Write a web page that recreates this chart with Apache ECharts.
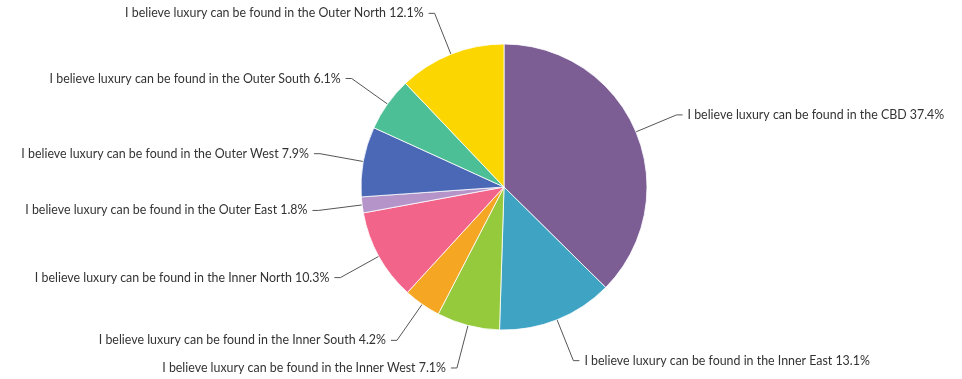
<!DOCTYPE html>
<html>
<head>
<meta charset="utf-8">
<script src="https://cdn.jsdelivr.net/npm/echarts@6/dist/echarts.min.js"></script>
<style>
  html, body { margin: 0; padding: 0; background: #ffffff; }
  #chart { width: 962px; height: 379px; }
</style>
</head>
<body>
<div id="chart"></div>
<script>
// Regions where respondents believe luxury can be found (share of responses, %)
const regions = [
  'CBD', 'Inner East', 'Inner West', 'Inner South', 'Inner North',
  'Outer East', 'Outer West', 'Outer South', 'Outer North'
];
const shares = [37.4, 13.1, 7.1, 4.2, 10.3, 1.8, 7.9, 6.1, 12.1];
const colors = [
  '#7c5e95', '#3fa4c4', '#96ca3d', '#f5a623', '#f26489',
  '#b494c9', '#4a68b5', '#4dbf96', '#fcd600'
];
const labelPrefix = 'I believe luxury can be found in the ';

const data = regions.map((r, i) => ({
  name: labelPrefix + r,
  value: shares[i],
  itemStyle: { color: colors[i] }
}));

const chart = echarts.init(document.getElementById('chart'));
chart.setOption({
  animation: false,
  series: [{
    type: 'pie',
    center: [504, 187],
    radius: 143,
    startAngle: 90,
    clockwise: true,
    avoidLabelOverlap: false,
    itemStyle: { borderColor: '#ffffff', borderWidth: 0.8 },
    label: {
      show: true,
      formatter: p => p.name + ' ' + p.value.toFixed(1) + '%',
      fontFamily: 'Lato',
      fontSize: 12.4,
      color: '#333333',
      distanceToLabelLine: 5
    },
    labelLine: {
      show: true,
      length: 44,
      length2: 6,
      lineStyle: { color: '#555555', width: 1 }
    },
    data: data
  }]
});
</script>
</body>
</html>
